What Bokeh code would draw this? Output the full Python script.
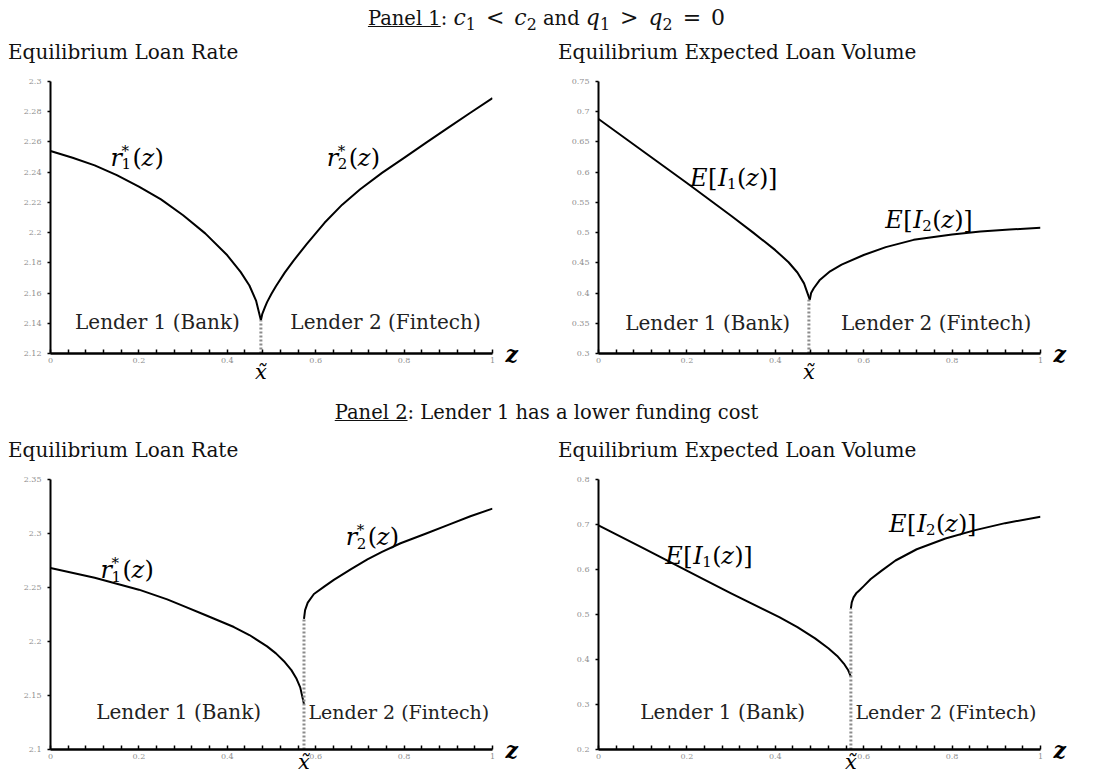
from bokeh.plotting import figure
from bokeh.models import Range1d, FixedTicker, CustomJSTickFormatter, Label, Div, LinearAxis
from bokeh.layouts import column, row
from bokeh.embed import file_html
from bokeh.resources import INLINE

# ---------------- data ----------------
# Panel 1, loan rate
p1_xtilde = 0.476
p1_r1_z = [0.0, 0.05, 0.1, 0.15, 0.2, 0.25, 0.3, 0.35, 0.4, 0.43, 0.45, 0.465, 0.476]
p1_r1_v = [2.254, 2.2495, 2.2445, 2.238, 2.2305, 2.222, 2.2115, 2.1995, 2.185, 2.174, 2.165, 2.155, 2.142]
p1_r2_z = [0.476, 0.479, 0.485, 0.49, 0.5, 0.51, 0.53, 0.55, 0.58, 0.6, 0.62, 0.66, 0.7, 0.75, 0.8, 0.85, 0.9, 0.95, 1.0]
p1_r2_v = [2.142, 2.146, 2.1505, 2.154, 2.1595, 2.1645, 2.1735, 2.1815, 2.1925, 2.1995, 2.2065, 2.2185,
           2.2285, 2.2395, 2.2495, 2.2595, 2.2695, 2.2793, 2.289]
# Panel 1, expected loan volume
p1_I1_z = [0.0, 0.1, 0.2, 0.3, 0.35, 0.4, 0.43, 0.45, 0.465, 0.478]
p1_I1_v = [0.688, 0.635, 0.582, 0.528, 0.5, 0.471, 0.451, 0.434, 0.416, 0.389]
p1_I2_z = [0.478, 0.481, 0.487, 0.5, 0.524, 0.55, 0.6, 0.65, 0.713, 0.8, 0.864, 0.93, 1.0]
p1_I2_v = [0.389, 0.4, 0.408, 0.421, 0.436, 0.447, 0.463, 0.476, 0.488, 0.497, 0.502, 0.505, 0.508]
# Panel 2, loan rate
p2_xtilde = 0.5735
p2_r1_z = [0.0, 0.1, 0.2, 0.264, 0.3, 0.35, 0.415, 0.45, 0.49, 0.51, 0.53, 0.545, 0.556, 0.565, 0.5735]
p2_r1_v = [2.268, 2.259, 2.248, 2.239, 2.233, 2.2245, 2.2134, 2.206, 2.1955, 2.189, 2.181, 2.1735, 2.166, 2.1575, 2.142]
p2_r2_z = [0.5735, 0.576, 0.582, 0.596, 0.62, 0.641, 0.68, 0.717, 0.75, 0.792, 0.85, 0.9, 0.95, 1.0]
p2_r2_v = [2.221, 2.229, 2.236, 2.244, 2.251, 2.257, 2.267, 2.276, 2.283, 2.291, 2.3, 2.308, 2.316, 2.323]
# Panel 2, expected loan volume
p2_xtilde_v = 0.571
p2_I1_z = [0.0, 0.1, 0.236, 0.3, 0.409, 0.45, 0.49, 0.52, 0.54, 0.555, 0.565, 0.571]
p2_I1_v = [0.698, 0.648, 0.579, 0.547, 0.494, 0.472, 0.447, 0.425, 0.408, 0.391, 0.376, 0.362]
p2_I2_z = [0.571, 0.573, 0.577, 0.583, 0.59, 0.6, 0.616, 0.64, 0.672, 0.72, 0.785, 0.85, 0.92, 1.0]
p2_I2_v = [0.513, 0.527, 0.538, 0.547, 0.5535, 0.563, 0.579, 0.597, 0.62, 0.645, 0.669, 0.687, 0.703, 0.717]

# ticks
x_major_ticks = [0, 0.2, 0.4, 0.6, 0.8, 1]
x_minor_ticks = [0.04, 0.08, 0.12, 0.16, 0.24, 0.28, 0.32, 0.36, 0.44, 0.48, 0.52, 0.56,
                 0.64, 0.68, 0.72, 0.76, 0.84, 0.88, 0.92, 0.96]
p1_rate_ticks = [2.12, 2.14, 2.16, 2.18, 2.2, 2.22, 2.24, 2.26, 2.28, 2.3]
p1_vol_ticks = [0.3, 0.35, 0.4, 0.45, 0.5, 0.55, 0.6, 0.65, 0.7, 0.75]
p2_rate_ticks = [2.1, 2.15, 2.2, 2.25, 2.3, 2.35]
p2_vol_ticks = [0.2, 0.3, 0.4, 0.5, 0.6, 0.7, 0.8]

# texts
panel1_title = "Panel 1"
panel2_title = "Panel 2"
panel2_text = "Lender 1 has a lower funding cost"
rate_title = "Equilibrium Loan Rate"
vol_title = "Equilibrium Expected Loan Volume"
lender1 = "Lender 1 (Bank)"
lender2 = "Lender 2 (Fintech)"
z_label = "z"
xt_label = "x\u0303"

SERIF = "DejaVu Serif"
fmt = CustomJSTickFormatter(code="return String(parseFloat(tick.toFixed(4)));")


def make_fig(width, height, left, right, top, bottom, yticks, xt, xt_standoff):
    p = figure(width=width, height=height, output_backend="svg", toolbar_location=None,
               x_range=Range1d(0, 1), y_range=Range1d(yticks[0], yticks[-1]),
               min_border_left=left, min_border_right=right,
               min_border_top=top, min_border_bottom=bottom)
    p.outline_line_color = None
    p.grid.visible = False
    p.background_fill_color = "white"
    p.border_fill_color = "white"
    xa = p.xaxis[0]
    xa.ticker = FixedTicker(ticks=x_major_ticks, minor_ticks=x_minor_ticks)
    xa.formatter = fmt
    xa.axis_line_width = 2.5
    xa.axis_line_color = "black"
    xa.major_tick_in = 4
    xa.major_tick_out = 0
    xa.minor_tick_in = 4
    xa.minor_tick_out = 0
    xa.major_tick_line_width = 1.5
    xa.minor_tick_line_width = 1.5
    xa.major_label_text_font = SERIF
    xa.major_label_text_font_size = "8px"
    xa.major_label_text_color = "#8f8f8f"
    xa.major_label_standoff = 4
    ya = p.yaxis[0]
    ya.ticker = FixedTicker(ticks=yticks)
    ya.formatter = fmt
    ya.axis_line_width = 2
    ya.axis_line_color = "black"
    ya.major_tick_in = 0
    ya.major_tick_out = 3
    ya.major_tick_line_width = 1.5
    ya.minor_tick_line_color = None
    ya.major_label_text_font = SERIF
    ya.major_label_text_font_size = "8px"
    ya.major_label_text_color = "#8f8f8f"
    ya.major_label_standoff = 6

    # x-tilde marker below the axis, through an extra axis
    xt_axis = LinearAxis(ticker=FixedTicker(ticks=[xt]),
                         formatter=CustomJSTickFormatter(args=dict(s=xt_label), code="return s;"))
    xt_axis.axis_line_color = None
    xt_axis.major_tick_line_color = None
    xt_axis.minor_tick_line_color = None
    xt_axis.major_label_text_font = SERIF
    xt_axis.major_label_text_font_style = "italic"
    xt_axis.major_label_text_font_size = "21px"
    xt_axis.major_label_text_color = "black"
    xt_axis.major_label_standoff = xt_standoff
    p.add_layout(xt_axis, "below")

    # "z" at the right end of the horizontal axis
    z_axis = LinearAxis(ticker=FixedTicker(ticks=[yticks[0]]),
                        formatter=CustomJSTickFormatter(args=dict(s=z_label), code="return s;"))
    z_axis.axis_line_color = None
    z_axis.major_tick_line_color = None
    z_axis.minor_tick_line_color = None
    z_axis.major_label_text_font = SERIF
    z_axis.major_label_text_font_style = "bold italic"
    z_axis.major_label_text_font_size = "22px"
    z_axis.major_label_text_color = "black"
    z_axis.major_label_standoff = 7
    p.add_layout(z_axis, "right")
    return p


def lab(p, x, y, text, size, italic=False, dx=0, dy=0, align="left", color="black"):
    p.add_layout(Label(x=x, y=y, x_offset=dx, y_offset=dy, text=text, text_font=SERIF,
                       text_font_size=f"{size}px", text_font_style="italic" if italic else "normal",
                       text_color=color, text_align=align, text_baseline="alphabetic"))


def r_label(p, x, y, idx):
    s = 24
    lab(p, x, y, "r", s, italic=True)
    lab(p, x, y, "*", 15, dx=11, dy=7)
    lab(p, x, y, idx, 15, dx=11, dy=-6)
    lab(p, x, y, "(", s, dx=22)
    lab(p, x, y, "z", s, italic=True, dx=31)
    lab(p, x, y, ")", s, dx=44)


def e_label(p, x, y, idx):
    s = 24
    lab(p, x, y, "E", s, italic=True)
    lab(p, x, y, "[", s, dx=18)
    lab(p, x, y, "I", s, italic=True, dx=28)
    lab(p, x, y, idx, 15, dx=37, dy=-6)
    lab(p, x, y, "(", s, dx=47)
    lab(p, x, y, "z", s, italic=True, dx=56)
    lab(p, x, y, ")", s, dx=69)
    lab(p, x, y, "]", s, dx=78)


def decorate(p, xt, ymin, l1x, l2x, ly, cusp, l2size=20):
    lab(p, l1x, ly, lender1, 20, align="center", color="#222")
    lab(p, l2x, ly, lender2, l2size, align="center", color="#222")
    p.segment(x0=[xt], y0=[ymin], x1=[xt], y1=[cusp], line_color="#8c8c8c",
              line_width=3, line_dash="2 2")


def curve(p, z, v):
    p.line(z, v, line_color="black", line_width=2, line_join="round")


# ---------- Panel 1 ----------
f11 = make_fig(546, 334, 50, 54, 15, 47, p1_rate_ticks, p1_xtilde, -12)
curve(f11, p1_r1_z, p1_r1_v)
curve(f11, p1_r2_z, p1_r2_v)
decorate(f11, p1_xtilde, p1_rate_ticks[0], 0.242, 0.758, 2.141, max(p1_r1_v[-1], p1_r2_v[0]))
r_label(f11, 0.136, 2.2496, "1")
r_label(f11, 0.625, 2.2496, "2")

f12 = make_fig(547, 334, 52, 53, 15, 47, p1_vol_ticks, p1_xtilde, -12)
curve(f12, p1_I1_z, p1_I1_v)
curve(f12, p1_I2_z, p1_I2_v)
decorate(f12, p1_xtilde, p1_vol_ticks[0], 0.247, 0.764, 0.351, max(p1_I1_v[-1], p1_I2_v[0]))
e_label(f12, 0.207, 0.591, "1")
e_label(f12, 0.649, 0.5214, "2")

# ---------- Panel 2 ----------
f21 = make_fig(546, 312, 50, 54, 15, 27, p2_rate_ticks, p2_xtilde, -18)
curve(f21, p2_r1_z, p2_r1_v)
curve(f21, p2_r2_z, p2_r2_v)
decorate(f21, p2_xtilde, p2_rate_ticks[0], 0.29, 0.788, 2.135, max(p2_r1_v[-1], p2_r2_v[0]), l2size=19)
r_label(f21, 0.113, 2.266, "1")
r_label(f21, 0.668, 2.2966, "2")

f22 = make_fig(547, 312, 52, 53, 15, 27, p2_vol_ticks, p2_xtilde_v, -18)
curve(f22, p2_I1_z, p2_I1_v)
curve(f22, p2_I2_z, p2_I2_v)
decorate(f22, p2_xtilde_v, p2_vol_ticks[0], 0.281, 0.786, 0.2824, max(p2_I1_v[-1], p2_I2_v[0]), l2size=19)
e_label(f22, 0.151, 0.631, "1")
e_label(f22, 0.657, 0.702, "2")

# ---------- headers / titles ----------
SUB = "style=\"font-size:72%;line-height:0;vertical-align:-0.3em\""
REL = "style=\"margin:0 10px\""
MATH = "style=\"font-size:22px\""
base = "font-family:'DejaVu Serif';color:#111;white-space:nowrap;"


def hdiv(html, width, height, extra):
    return Div(text=f"<div style=\"{base}{extra}\">{html}</div>", width=width, height=height,
               margin=(0, 0, 0, 0))


hdr1_html = (f"<u>{panel1_title}</u>: <span {MATH}><i>c</i><sub {SUB}>1</sub><span {REL}>&lt;</span>"
             f"<i>c</i><sub {SUB}>2</sub></span> and <span {MATH}><i>q</i><sub {SUB}>1</sub>"
             f"<span {REL}>&gt;</span><i>q</i><sub {SUB}>2</sub><span {REL}>=</span>0</span>")
hdr2_html = f"<u>{panel2_title}</u>: {panel2_text}"

W = 1093
div_h1 = hdiv(hdr1_html, W, 32, f"font-size:19.5px;line-height:20px;padding-top:8px;text-align:center;width:{W}px;")
t11 = hdiv(rate_title, 546, 34, "font-size:20px;line-height:20px;padding-top:10px;padding-left:8px;")
t12 = hdiv(vol_title, 547, 34, "font-size:20px;line-height:20px;padding-top:10px;padding-left:12px;")
div_h2 = hdiv(hdr2_html, W, 30, f"font-size:19.5px;line-height:20px;padding-top:3px;text-align:center;width:{W}px;")
t21 = hdiv(rate_title, 546, 34, "font-size:20px;line-height:20px;padding-top:10px;padding-left:8px;")
t22 = hdiv(vol_title, 547, 34, "font-size:20px;line-height:20px;padding-top:10px;padding-left:12px;")

layout = column(div_h1, row(t11, t12, spacing=0), row(f11, f12, spacing=0),
                div_h2, row(t21, t22, spacing=0), row(f21, f22, spacing=0), spacing=0)

open("out.html", "w").write(file_html(layout, INLINE))
